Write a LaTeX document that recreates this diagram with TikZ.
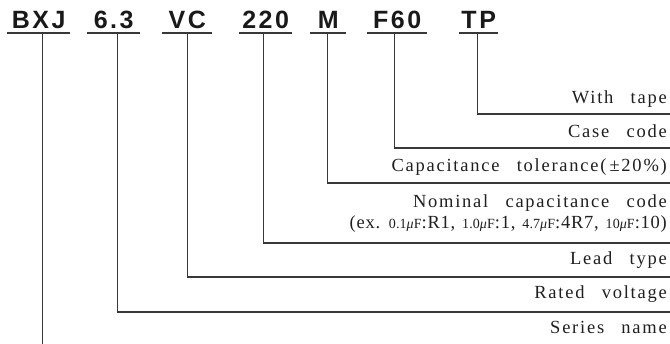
\documentclass[tikz,border=0pt]{standalone}
\usepackage{fontspec}
\newfontfamily\codefont[LetterSpace=10]{Liberation Sans}
\newfontfamily\lblfont[LetterSpace=9.5,WordSpace=2.7]{Liberation Serif}
\newfontfamily\lblfontb[LetterSpace=4,WordSpace=1.3]{Liberation Serif}
\newfontfamily\smfont[LetterSpace=1]{Liberation Serif}
\newcommand\smq[1]{{\smfont\fontsize{14}{14}\selectfont #1}}
\begin{document}
\begin{tikzpicture}[x=1pt,y=-1pt,
  code/.style={font=\codefont\bfseries\fontsize{25}{25}\selectfont, text=black!90,
    inner xsep=0pt, inner ysep=4pt, anchor=south west, minimum width=#1},
  lbl/.style={font=\lblfont\fontsize{18.5}{18.5}\selectfont, text=black!88,
    inner sep=0pt, anchor=base east},
  lblb/.style={lbl, font=\lblfontb\fontsize{18.5}{18.5}\selectfont},
  conn/.style={draw=black!78, line width=1.2pt},
  uline/.style={draw=black!78, line width=1.2pt}]
\useasboundingbox (0,0) rectangle (670,344);
\coordinate (bottom) at (0,344);
% codes
\node[code=63pt] (bxj) at (7,33) {BXJ};
\node[code=53pt] (v63) at (87,33) {6.3};
\node[code=50pt] (vc) at (162,33) {VC};
\node[code=53pt] (c220) at (239,33) {220};
\node[code=36pt] (m) at (310,33) {M};
\node[code=60pt] (f60) at (367,33) {F60};
\node[code=39pt] (tp) at (459,33) {TP};
\foreach \n in {bxj,v63,vc,c220,m,f60,tp}
  \draw[uline] (\n.south west) -- (\n.south east);
% line ends
\coordinate (e-tp) at (670,114);
\coordinate (e-f60) at (670,148);
\coordinate (e-m) at (670,183);
\coordinate (e-220) at (670,243);
\coordinate (e-vc) at (670,277);
\coordinate (e-63) at (670,312);
% connectors
\draw[conn] ([xshift=-1.5pt]tp.south) |- (e-tp);
\draw[conn] ([xshift=-3pt]f60.south) |- (e-f60);
\draw[conn] ([xshift=-1pt]m.south) |- (e-m);
\draw[conn] ([xshift=-2.5pt]c220.south) |- (e-220);
\draw[conn] (vc.south) |- (e-vc);
\draw[conn] ([xshift=3.5pt]v63.south) |- (e-63);
\draw[conn] ([xshift=3.5pt]bxj.south) -- ([xshift=3.5pt]bxj.south |- bottom);
% labels
\node[lbl] (l-tp) at (667,104) {With tape};
\node[lbl] (l-f60) at (667,138) {Case code};
\node[lbl] (l-m) at (667,172) {Capacitance tolerance(\hspace{3pt}±20\%)};
\node[lbl] (l-220) at (667,208) {Nominal capacitance code};
\node[lblb] (l-220b) at (667,229) {(ex. \smq{0.1\textit{μ}F}:R1, \smq{1.0\textit{μ}F}:1, \smq{4.7\textit{μ}F}:4R7, \smq{10\textit{μ}F}:10)};
\node[lbl] (l-vc) at (667,265) {Lead type};
\node[lbl] (l-63) at (667,299) {Rated voltage};
\node[lbl] (l-bxj) at (667,334) {Series name};
\end{tikzpicture}
\end{document}
